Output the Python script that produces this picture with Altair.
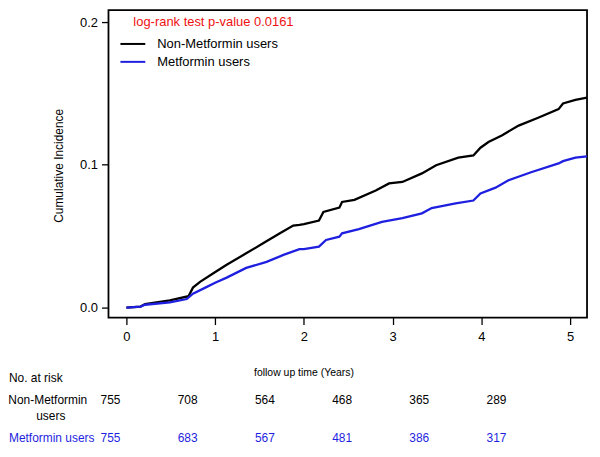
import altair as alt
import pandas as pd

FONT = "Liberation Sans, Arial, sans-serif"

# Cumulative incidence curves
t_non = [0, 0.16, 0.21, 0.49, 0.70, 0.75, 0.83, 0.98, 1.13, 1.35, 1.54, 1.73, 1.88, 1.95, 2.0,
         2.17, 2.22, 2.40, 2.43, 2.57, 2.81, 2.96, 3.11, 3.33, 3.49, 3.74, 3.91, 3.99, 4.08,
         4.23, 4.42, 4.64, 4.87, 4.92, 5.06, 5.19]
v_non = [0, 0.0007, 0.0025, 0.005, 0.008, 0.014, 0.018, 0.024, 0.030, 0.038, 0.045, 0.052,
         0.0575, 0.058, 0.0585, 0.061, 0.067, 0.070, 0.074, 0.0755, 0.082, 0.087, 0.088,
         0.094, 0.0997, 0.105, 0.1066, 0.112, 0.116, 0.1206, 0.1275, 0.133, 0.139, 0.143,
         0.1455, 0.147]
t_met = [0, 0.16, 0.21, 0.49, 0.68, 0.75, 0.89, 1.0, 1.13, 1.35, 1.58, 1.77, 1.95, 2.0,
         2.17, 2.25, 2.40, 2.43, 2.62, 2.88, 3.11, 3.33, 3.44, 3.71, 3.91, 3.99, 4.16,
         4.30, 4.56, 4.87, 4.92, 5.06, 5.19]
v_met = [0, 0.0007, 0.002, 0.0037, 0.006, 0.0098, 0.014, 0.0174, 0.021, 0.0278, 0.032,
         0.0369, 0.041, 0.041, 0.0427, 0.0474, 0.0497, 0.052, 0.055, 0.060, 0.0627, 0.066,
         0.0697, 0.073, 0.075, 0.080, 0.084, 0.089, 0.0948, 0.101, 0.1026, 0.105, 0.106]

groups = ["Non-Metformin users", "Metformin users"]
colors = ["#000000", "#1f1fe0"]

risk_times = [0, 1, 2, 3, 4, 5]
risk_non = [755, 708, 564, 468, 365, 289]
risk_met = [755, 683, 567, 481, 386, 317]

pvalue_text = "log-rank test p-value 0.0161"

df = pd.concat([
    pd.DataFrame({"time": t_non, "ci": v_non, "group": groups[0]}),
    pd.DataFrame({"time": t_met, "ci": v_met, "group": groups[1]}),
])
risk_df = pd.DataFrame({"time": risk_times, "non": risk_non, "met": risk_met})
one = alt.Data(values=[{}])

x_scale = alt.Scale(domain=[-0.2018, 5.1906], nice=False, zero=False)
y_scale = alt.Scale(domain=[-0.00697, 0.20836], nice=False, zero=False)
tab_scale = alt.Scale(domain=[-0.0258, 6.1727], nice=False, zero=False)

curves = alt.Chart(df).mark_line(strokeWidth=2.3, clip=True).encode(
    x=alt.X("time:Q", scale=x_scale,
            axis=alt.Axis(values=[0, 1, 2, 3, 4, 5], format="d", domain=False, grid=False,
                          tickSize=7, tickWidth=1.3, tickColor="black", labelPadding=6,
                          labelFontSize=13, labelFont=FONT, labelColor="black",
                          title="follow up time (Years)", titleFont=FONT, titleFontSize=10.5,
                          titleFontWeight="normal", titleColor="black", titleX=196, titleY=55,
                          titleBaseline="middle", titleAlign="center")),
    y=alt.Y("ci:Q", scale=y_scale,
            axis=alt.Axis(values=[0, 0.1, 0.2], format=".1f", domain=False, grid=False,
                          tickSize=7, tickWidth=1.3, tickColor="black", labelPadding=4,
                          labelFontSize=13, labelFont=FONT, labelColor="black",
                          title="Cumulative Incidence", titleFont=FONT, titleFontSize=12,
                          titleFontWeight="normal", titleColor="black", titleX=-50, titleY=156,
                          titleBaseline="middle", titleAlign="center", titleAngle=270)),
    color=alt.Color("group:N", scale=alt.Scale(domain=groups, range=colors), legend=None),
)

pval = alt.Chart(one).mark_text(text=pvalue_text, color="#ee1111", fontSize=13, font=FONT,
                                align="left", baseline="middle").encode(
    x=alt.value(25), y=alt.value(12))

leg_line1 = alt.Chart(one).mark_rule(color=colors[0], strokeWidth=2).encode(
    x=alt.value(12), x2=alt.value(37), y=alt.value(34))
leg_line2 = alt.Chart(one).mark_rule(color=colors[1], strokeWidth=2).encode(
    x=alt.value(12), x2=alt.value(37), y=alt.value(52))
leg_txt1 = alt.Chart(one).mark_text(text=groups[0], fontSize=13, font=FONT, color="black",
                                    align="left", baseline="middle").encode(
    x=alt.value(49), y=alt.value(34))
leg_txt2 = alt.Chart(one).mark_text(text=groups[1], fontSize=13, font=FONT, color="black",
                                    align="left", baseline="middle").encode(
    x=alt.value(49), y=alt.value(52))

TS = 12
row1 = alt.Chart(risk_df).mark_text(fontSize=TS, font=FONT, color=colors[0],
                                    align="center", baseline="middle").encode(
    x=alt.X("time:Q", scale=tab_scale, axis=None), y=alt.value(392), text="non:Q")
row2 = alt.Chart(risk_df).mark_text(fontSize=TS, font=FONT, color=colors[1],
                                    align="center", baseline="middle").encode(
    x=alt.X("time:Q", scale=tab_scale, axis=None), y=alt.value(430), text="met:Q")

lab_risk = alt.Chart(one).mark_text(text="No. at risk", fontSize=TS, font=FONT, color="black",
                                    align="left", baseline="middle").encode(
    x=alt.value(-100), y=alt.value(370))
lab_non1 = alt.Chart(one).mark_text(text="Non-Metformin", fontSize=TS, font=FONT, color="black",
                                    align="center", baseline="middle").encode(
    x=alt.value(-61), y=alt.value(392))
lab_non2 = alt.Chart(one).mark_text(text="users", fontSize=TS, font=FONT, color="black",
                                    align="center", baseline="middle").encode(
    x=alt.value(-58), y=alt.value(408))
lab_met = alt.Chart(one).mark_text(text="Metformin users", fontSize=TS, font=FONT,
                                   color=colors[1], align="left", baseline="middle").encode(
    x=alt.value(-100), y=alt.value(430))

chart = alt.layer(
    curves, pval, leg_line1, leg_line2, leg_txt1, leg_txt2,
    row1, row2, lab_risk, lab_non1, lab_non2, lab_met
).resolve_scale(x="independent").properties(
    width=481, height=309,
    padding={"left": 0, "top": 1, "right": 5, "bottom": 5},
).configure_view(stroke="black", strokeWidth=1.8)

chart.save("out.html", embed_options={"renderer": "svg", "actions": False})
